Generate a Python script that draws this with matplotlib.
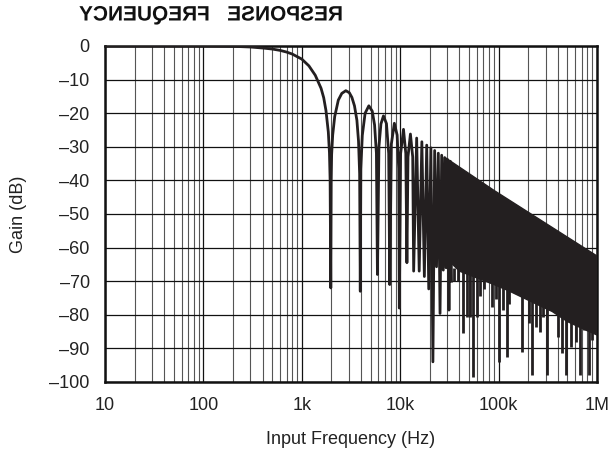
import matplotlib
matplotlib.use("Agg")
import matplotlib.pyplot as plt
from matplotlib.patheffects import AbstractPathEffect
from matplotlib.transforms import Affine2D
from matplotlib.ticker import FixedLocator, NullFormatter

plt.rcParams['font.family'] = ['Liberation Sans', 'DejaVu Sans']

# curve: passband, main notches and the first side lobes
resp_f = [10, 100, 200, 300, 400, 500, 600, 700, 800, 1000, 1180, 1370, 1570, 1670, 1760,
          1860, 1910, 1940, 1970,
          1990, 2010, 2060, 2160, 2350, 2550, 2800, 3040, 3230, 3430, 3630, 3770, 3870, 3930,
          3980, 4120, 4400, 4800, 5200, 5490, 5730, 5870,
          6080, 6370, 6760, 7250, 7640, 7830,
          8130, 8720, 9310, 9650, 9800,
          10100, 10800, 11400, 11700,
          12000, 12700, 13400, 13700,
          14700, 15600, 16600, 17600, 18600, 19500, 20500, 21500, 22400, 23400,
          24400, 25400, 26400, 27400, 28300, 29300, 30300, 31300, 32300, 33200]
resp_db = [0, 0, -0.1, -0.3, -0.6, -0.9, -1.3, -1.8, -2.4, -3.9, -5.9, -8.7, -12.6, -15.4, -19.2,
           -25.6, -31.8, -40, -72,
           -40, -32.3, -26.5, -21, -16.1, -14.1, -13.3, -13.9, -15.3, -17.8, -22.1, -28.3, -38, -73,
           -36.6, -26.6, -20, -17.8, -19.4, -23.5, -31.9, -68,
           -30, -23.2, -20.8, -23.1, -32, -71,
           -29.2, -23, -26.5, -36.4, -78,
           -32, -24.8, -32, -64.5,
           -33, -26.2, -33, -67,
           -27.4, -67, -28.5, -68.6, -29.5, -72.3, -30.3, -94, -31.1, -65.7,
           -31.9, -79.6, -32.5, -66.7, -33.2, -66, -33.8, -78.6, -34.3, -70]

# dense part above ~30 kHz: top envelope and the lower edge of the black band
env_f = [29e3, 90e3, 1e6]
env_db = [-33.3, -43, -62.5]
floor_f = [29e3, 40e3, 60e3, 90e3, 130e3, 180e3, 250e3, 350e3, 500e3, 700e3, 1e6]
floor_db = [-63, -67, -69, -71, -73, -75, -77, -79, -82, -84, -86]

# deep notches that stick out below the band
spike_f = [35e3, 39e3, 43e3, 48e3, 51e3, 55e3, 60e3, 65e3, 71e3, 85e3, 95e3,
           101e3, 110e3, 121e3, 128e3, 142e3, 156e3, 173e3, 189e3, 205e3, 221e3, 240e3,
           263e3, 280e3, 307e3, 353e3, 397e3, 446e3, 483e3, 543e3, 611e3, 675e3,
           741e3, 834e3, 900e3]
spike_db = [-70, -70, -85.3, -80.8, -80.8, -98.5, -80.8, -74.3, -72.3, -77.8, -75.3,
            -94, -78.6, -92.5, -76.8, -72.6, -73, -91, -70.6, -82.5, -98, -83.5,
            -85, -80.8, -98, -78, -86.5, -91.5, -98, -89.5, -88, -98,
            -84.5, -98, -87.5]

x_ticks = [10, 100, 1e3, 1e4, 1e5, 1e6]
x_labels = ['10', '100', '1k', '10k', '100k', '1M']
y_ticks = list(range(-100, 1, 10))
y_labels = [str(v).replace('-', '\u2013') for v in y_ticks]

ink = '#231f20'


class Mirror(AbstractPathEffect):
    # flips the text path left-right about its own centre
    def draw_path(self, renderer, gc, tpath, affine, rgbFace=None):
        ext = tpath.get_extents(affine)
        cx = (ext.x0 + ext.x1) / 2
        flip = affine + Affine2D().translate(-cx, 0).scale(-1, 1).translate(cx, 0)
        renderer.draw_path(gc, tpath, flip, rgbFace)


fig = plt.figure(figsize=(6.08, 4.53), dpi=100)
ax = fig.add_axes([105 / 608, 1 - 382 / 453, 492 / 608, 336 / 453])

ax.plot(resp_f, resp_db, color=ink, lw=2.0, solid_joinstyle='round', zorder=3)
# band between the envelope and the floor
ax.fill(env_f + floor_f[::-1], env_db + floor_db[::-1], color=ink, lw=1.0, zorder=3)
ax.vlines(spike_f, spike_db, -66, color=ink, lw=2.0, zorder=3)

ax.set_xscale('log')
ax.set_xlim(10, 1e6)
ax.set_ylim(-100, 0)
ax.set_xticks(x_ticks)
ax.set_xticklabels(x_labels)
ax.xaxis.set_minor_locator(FixedLocator([m * 10 ** d for d in range(1, 6) for m in range(2, 10)]))
ax.xaxis.set_minor_formatter(NullFormatter())
ax.set_yticks(y_ticks)
ax.set_yticklabels(y_labels)
ax.tick_params(which='both', length=0, labelsize=13, colors='#222')
ax.tick_params(axis='y', pad=11)
ax.tick_params(axis='x', pad=11)

ax.set_axisbelow(True)
ax.grid(which='major', color='#111', lw=0.9)
ax.grid(which='minor', axis='x', color='#555', lw=0.8)
for s in ax.spines.values():
    s.set_linewidth(1.8)
    s.set_color('#111')

ax.set_xlabel('Input Frequency (Hz)', fontsize=13, labelpad=12, color='#222')
ax.set_ylabel('Gain (dB)', fontsize=13, labelpad=16, color='#222')

fig.text(210 / 608, 1 - 15 / 453, 'RESPONSE   FREQUENCY', ha='center', va='center',
         fontsize=15, fontweight='bold', color='#111', path_effects=[Mirror()])

fig.savefig('out.png', dpi=100)
